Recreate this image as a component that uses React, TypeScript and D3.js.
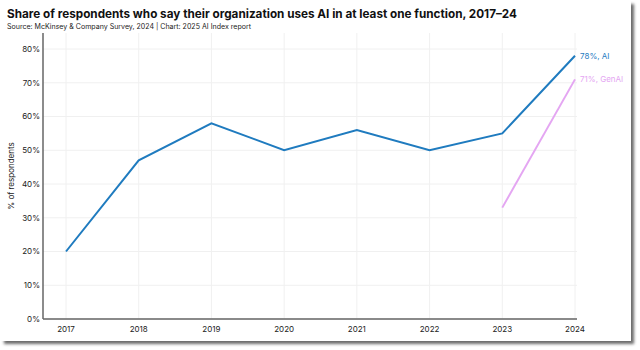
import React from 'react';
import * as d3 from 'd3';

// chart data
const years = [2017, 2018, 2019, 2020, 2021, 2022, 2023, 2024];
const aiValues = [20, 47, 58, 50, 56, 50, 55, 78];
const genAiYears = [2023, 2024];
const genAiValues = [33, 71];
const yTicks = [0, 10, 20, 30, 40, 50, 60, 70, 80];

const W = 640;
const H = 350;
const margin = { top: 33, right: 62, bottom: 31, left: 43 };

function App() {
  const x = d3.scaleLinear()
    .domain([2017, 2024])
    .range([66, W - 65]);
  const y = d3.scaleLinear()
    .domain([0, 80])
    .range([H - margin.bottom, 49]);

  const line = d3.line<[number, number]>()
    .x(d => x(d[0]))
    .y(d => y(d[1]));

  const aiPts = years.map((yr, i) => [yr, aiValues[i]] as [number, number]);
  const genPts = genAiYears.map((yr, i) => [yr, genAiValues[i]] as [number, number]);

  const font = 'Inter, "Noto Sans", sans-serif';
  const x0 = margin.left;
  const x1 = x(2024) + 2;
  const yBottom = y(0);

  return (
    <svg width={W} height={H} style={{ position: 'absolute', left: 0, top: 0, background: '#fff' }} fontFamily={font}>
      <defs>
        <filter id="shadow" x="-5%" y="-5%" width="110%" height="110%">
          <feGaussianBlur stdDeviation="1.5" />
        </filter>
      </defs>
      {/* drop shadow of the card */}
      <rect x={4} y={4} width={630} height={340} fill="#6b6b6b" filter="url(#shadow)" />
      <rect x={0} y={0} width={631} height={341} fill="#fff" />

      <text x={7} y={18} fontSize={12} fontWeight={700} fill="#111" textLength={510} lengthAdjust="spacingAndGlyphs">
        Share of respondents who say their organization uses AI in at least one function, 2017–24
      </text>
      <text x={7} y={28.5} fontSize={7} fill="#222" textLength={244} lengthAdjust="spacingAndGlyphs">
        Source: McKinsey &amp; Company Survey, 2024 | Chart: 2025 AI Index report
      </text>

      {/* grid */}
      {yTicks.map(t => (
        <line key={'gy' + t} x1={x0} x2={x1} y1={y(t)} y2={y(t)} stroke="#f0f0f0" strokeWidth={1} />
      ))}
      {years.map(yr => (
        <line key={'gx' + yr} x1={x(yr)} x2={x(yr)} y1={margin.top} y2={yBottom} stroke="#f0f0f0" strokeWidth={1} />
      ))}

      {/* axes */}
      <line x1={x0} x2={x0} y1={margin.top} y2={yBottom} stroke="#666" strokeWidth={1.5} />
      <line x1={x0} x2={x1} y1={yBottom} y2={yBottom} stroke="#666" strokeWidth={1.5} />

      {yTicks.map(t => (
        <text key={'ty' + t} x={x0 - 3} y={y(t)} dy="0.35em" textAnchor="end" fontSize={8} fill="#222">
          {t}%
        </text>
      ))}
      {years.map(yr => (
        <text key={'tx' + yr} x={x(yr)} y={yBottom + 13} textAnchor="middle" fontSize={8} fill="#222">
          {yr}
        </text>
      ))}
      <text transform={`translate(14,${(margin.top + yBottom) / 2}) rotate(-90)`} textAnchor="middle" fontSize={8} fill="#222">
        % of respondents
      </text>

      {/* lines */}
      <path d={line(aiPts) || ''} fill="none" stroke="#1f7bbf" strokeWidth={2} />
      <path d={line(genPts) || ''} fill="none" stroke="#e4a6f2" strokeWidth={2} />

      <text x={x(2024) + 5} y={y(78)} dy="0.35em" fontSize={8} fill="#1f7bbf">
        {aiValues[aiValues.length - 1]}%, AI
      </text>
      <text x={x(2024) + 5} y={y(71)} dy="0.35em" fontSize={8} fill="#e4a6f2">
        {genAiValues[genAiValues.length - 1]}%, GenAI
      </text>
    </svg>
  );
}

export default App;
